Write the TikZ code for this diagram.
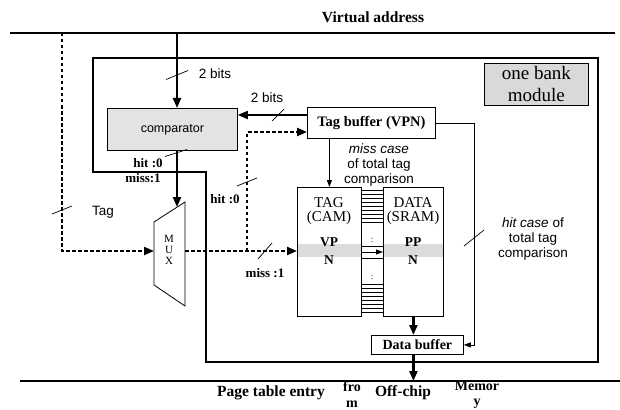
\documentclass[tikz,border=0pt]{standalone}
\usepackage{fontspec}
\setmainfont{Liberation Serif}
\setsansfont{Liberation Sans}
\usetikzlibrary{arrows.meta,calc}
\newcommand\slashmk[3]{\draw[slashl] ($(#1)+(-#2,#3)$) -- ($(#1)+(#2,-#3)$);}
\begin{document}
\begin{tikzpicture}[x=1pt,y=-1pt,
  box/.style={draw,line width=0.8pt,inner sep=0pt,anchor=north west},
  bus/.style={line width=2.8pt},
  wall/.style={line width=1.9pt},
  thk/.style={line width=2.3pt},
  dashline/.style={line width=2.2pt,dash pattern=on 3.5pt off 2.5pt},
  thn/.style={line width=0.8pt},
  bigtip/.style={-{Triangle[length=10pt,width=8pt]}},
  smalltip/.style={-{Triangle[length=7pt,width=5pt]}},
  slashl/.style={line width=0.7pt},
  bl/.style={font=\bfseries\fontsize{13}{15}\selectfont,inner sep=0pt},
  btl/.style={font=\bfseries\fontsize{15.5}{17}\selectfont,inner sep=0pt},
  bsl/.style={font=\bfseries\fontsize{14}{15}\selectfont,inner sep=0pt},
  sl/.style={font=\sffamily\fontsize{13.5}{15}\selectfont,inner sep=0pt,align=center},
  cell/.style={font=\fontsize{15}{16}\selectfont,inner sep=0pt},
  cellb/.style={font=\bfseries\fontsize{13.5}{15}\selectfont,inner sep=0pt},
]
\useasboundingbox (0,0) rectangle (620,409);

% buses
\coordinate (vaL) at (10,33);
\coordinate (vaR) at (615,33);
\coordinate (ptL) at (20,381);
\coordinate (ptR) at (620,381);
\draw[bus] (vaL) -- (vaR);
\draw[bus] (ptL) -- (ptR);

% module outline
\draw[wall] (93,58) -- (598,58) -- (598,362) -- (206,362) -- (206,172) -- (93,172) -- cycle;

% gray bands
\fill[gray!28] (297,244) rectangle (361,257);
\fill[gray!28] (383,244) rectangle (443,257);

% boxes
\node[box,fill=gray!22,minimum width=130pt,minimum height=42pt,font=\sffamily\fontsize{12.5}{14}\selectfont] (cmp) at (107,108) {comparator};
\node[box,fill=white,minimum width=128pt,minimum height=31pt,font=\bfseries\fontsize{14.5}{16}\selectfont] (tb) at (307,107) {Tag buffer (VPN)};
\node[box,fill=gray!30,minimum width=104pt,minimum height=42pt,align=center,font=\fontsize{19}{22}\selectfont] (obm) at (484,63) {one bank\\module};
\node[box,minimum width=64pt,minimum height=129pt] (tag) at (297,187) {};
\node[box,minimum width=60pt,minimum height=129pt] (data) at (383,187) {};
\node[box,fill=white,minimum width=92pt,minimum height=19pt,font=\bfseries\fontsize{14}{16}\selectfont] (db) at (371,335) {Data buffer};

% texts in TAG / DATA
\node[cell] (tagt1) at (329,203) {TAG};
\node[cell] (tagt2) at (329,218) {(CAM)};
\node[cellb] (tagt3) at (329,242) {VP};
\node[cellb] (tagt4) at (329,260) {N};
\node[cell] (dat1) at (413,203) {DATA};
\node[cell] (dat2) at (413,218) {(SRAM)};
\node[cellb] (dat3) at (413,242) {PP};
\node[cellb] (dat4) at (413,260) {N};

% lines between TAG and DATA
\foreach \yy in {3,7,...,35,59,71,97,101,...,125}
  \draw[thn] ($(tag.north east)+(0,\yy)$) -- ($(data.north west)+(0,\yy)$);
\node[font=\fontsize{9}{10}\selectfont,inner sep=0pt] (dt1) at (372,240) {:};
\node[font=\fontsize{9}{10}\selectfont,inner sep=0pt] (dt2) at (372,277) {:};
\coordinate (tdr) at ($(tag.north east)+(0,65)$);
\draw[thn,smalltip] (tdr) -- (tdr -| data.west);

% MUX
\coordinate (mx1) at (154,222);
\coordinate (mx2) at (185,202);
\coordinate (mx3) at (185,306);
\coordinate (mx4) at (154,285);
\draw[line width=0.8pt] (mx1) -- (mx2) -- (mx3) -- (mx4) -- cycle;
\node[font=\fontsize{11}{11}\selectfont,align=center,inner sep=0pt] (muxt) at (169,250) {M\\U\\X};

% dashed paths
\coordinate (muxin) at (154,251);
\coordinate (muxout) at (185,251);
\coordinate (tagsrc) at (62,33);
\coordinate (jn) at (247,251);
\coordinate (tbin) at ($(tb.north west)+(0,25)$);
\draw[dashline,bigtip] (tagsrc) |- (muxin);
\draw[dashline,bigtip] (muxout) -- (muxout -| tag.west);
\draw[dashline,bigtip] (jn) |- (tbin);

% solid connectors
\coordinate (vatap) at (177,33);
\coordinate (muxsel) at (177,207);
\draw[thk,bigtip] (vatap) -- (vatap |- cmp.north);
\draw[thk,bigtip] (muxsel |- cmp.south) -- (muxsel);
\coordinate (tbo) at ($(tb.north west)+(0,8)$);
\draw[line width=1.8pt,bigtip] (tbo) -- (tbo -| cmp.east);
\draw[thn,smalltip] (tag.north |- tb.south) -- (tag.north);
\coordinate (tbr) at ($(tb.north east)+(0,16)$);
\coordinate (hx) at (474,0);
\draw[thn,smalltip] (tbr) -- (tbr -| hx) -- (hx |- db.east) -- (db.east);
\draw[thk,bigtip] (data.south) -- (data.south |- db.north);
\draw[thk,bigtip] (data.south |- db.south) -- (data.south |- ptL);

% slash marks
\slashmk{177,75}{11}{4.5}
\slashmk{278,115}{6}{6}
\slashmk{176,153}{11}{3.5}
\slashmk{62,210}{10}{4}
\slashmk{247,182}{10}{4}
\slashmk{265,251}{7}{8}
\slashmk{474,238}{10}{8}

% labels
\node[btl] (va) at (373,17) {Virtual address};
\node[sl] (b1) at (215,74) {2 bits};
\node[sl] (b2) at (267,98) {2 bits};
\node[bl] (h1) at (148,163) {hit :0};
\node[bl] (m1l) at (143,178) {miss:1};
\node[bl] (h2) at (225,199) {hit :0};
\node[bl] (m2l) at (265,273) {miss :1};
\node[sl] (tg) at (103,212) {Tag};
\node[sl] (mc) at (379,165) {\textit{miss case}\\of total tag\\comparison};
\node[sl] (hc) at (533,239) {\textit{hit case} of\\total tag\\comparison};

% bottom text
\node[btl] (pte) at (271,393) {Page table entry};
\node[bsl] (fr1) at (352,387) {fro};
\node[bsl] (fr2) at (352,404) {m};
\node[btl] (oc) at (403,393) {Off-chip};
\node[bsl] (me1) at (477,386) {Memor};
\node[bsl] (me2) at (477,404) {y};
\end{tikzpicture}
\end{document}
